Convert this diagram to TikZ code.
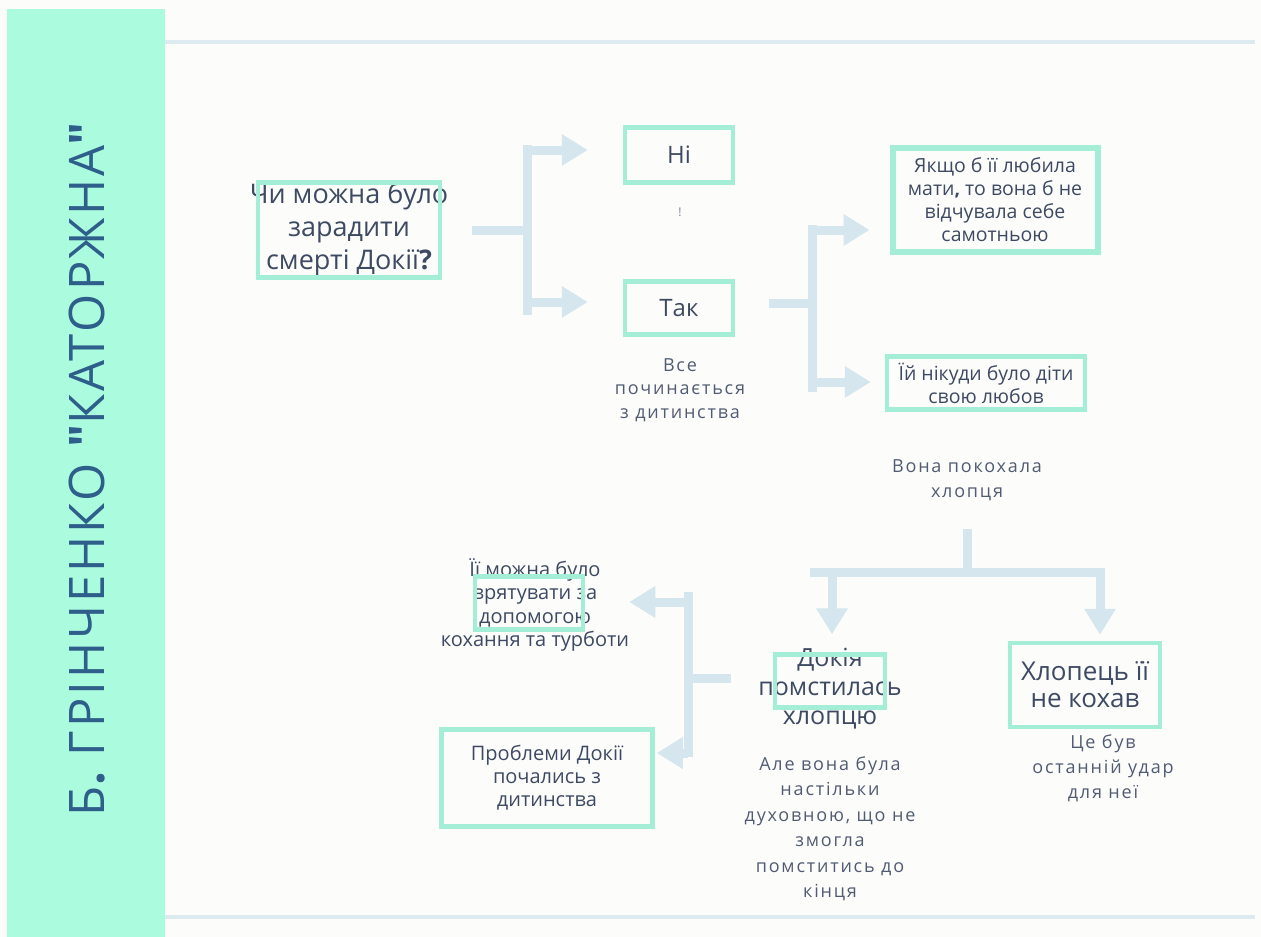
\documentclass[tikz,border=0pt]{standalone}
\usepackage{fontspec}
\setmainfont{Open Sans}
\newfontfamily\titlefont[LetterSpace=6]{Open Sans}
\usetikzlibrary{arrows.meta}
\definecolor{paper}{HTML}{FCFCFB}
\definecolor{mint}{HTML}{ABFCDF}
\definecolor{boxmint}{HTML}{A4EED7}
\definecolor{pale}{HTML}{D5E6EE}
\definecolor{rule}{HTML}{DDEBF0}
\definecolor{ink}{HTML}{3E4A62}
\definecolor{titleblue}{HTML}{2E5E8A}

\begin{document}
\begin{tikzpicture}[x=1pt,y=-1pt,
    box/.style={draw=boxmint,line width=4.5pt,inner sep=0pt},
    big/.style={text=ink,align=center,font=\fontsize{24}{29}\selectfont},
    mid/.style={text=ink,align=center,font=\fontsize{19.5}{23}\selectfont},
    note/.style={text=ink!90,align=center,font=\fontsize{18}{#1}\selectfont\addfontfeature{LetterSpace=10}},
    note/.default=25.5,
    bar/.style={draw=pale,line width=9pt},
    arr/.style={bar,-{Triangle[width=30pt,length=26pt]}}]
            \useasboundingbox (0,0) rectangle (1261,937);
            \fill[paper] (0,0) rectangle (1261,937);
            \fill[mint] (7,9) rectangle (165,937);
            \draw[rule,line width=3.5pt] (165,42) -- (1255,42);
            \draw[rule,line width=3.5pt] (165,917) -- (1255,917);
            \node[rotate=90,text=titleblue,font=\titlefont\fontsize{49}{58}\selectfont] (title) at (87,469) {Б{\bfseries .} ГРІНЧЕНКО {\bfseries "}КАТОРЖНА{\bfseries "}};

            % question and first answers
            \node[big,font=\fontsize{27}{33}\selectfont] (q) at (349,229) {Чи можна було\\зарадити\\смерті Докії{\bfseries ?}};
            \node[box,minimum width=182pt,minimum height=95pt] (qbox) at (349,230) {};
            \node[box,big,minimum width=108pt,minimum height=55pt] (no) at (679,155) {Ні};
            \node[text=ink!70,font=\fontsize{12}{14}\selectfont] (excl) at (680,212) {!};
            \node[box,big,minimum width=108pt,minimum height=53pt] (yes) at (679,308) {Так};
            \node[note=23.5] (child) at (680,390) {Все\\починається\\з дитинства};

            \coordinate (s1) at (527,230);
            \coordinate (tNo) at ([shift={(-35,-5)}]no.west);
            \coordinate (tYes) at ([shift={(-35,-6)}]yes.west);
            \draw[bar] ([shift={(30,0)}]qbox.east) -- (s1);
            \draw[bar] (s1 |- tNo) ++(0,-5) -- (s1 |- tYes) -- ++(0,13);
            \draw[arr] (s1 |- tNo) -- (tNo);
            \draw[arr] (s1 |- tYes) -- (tYes);

            % reasons
            \node[box,mid,line width=6pt,minimum width=205pt,minimum height=104pt] (love) at (995,200) {Якщо б її любила\\мати{\bfseries ,} то вона б не\\відчувала себе\\самотньою};
            \node[box,mid,minimum width=198pt,minimum height=53pt] (nowhere) at (986,383) {Їй нікуди було діти\\свою любов};
            \node[note] (fell) at (967,480) {Вона покохала\\хлопця};

            \coordinate (s2) at (812,303);
            \coordinate (tLove) at ([shift={(-20,30)}]love.west);
            \coordinate (tNowhere) at ([shift={(-14,-1)}]nowhere.west);
            \draw[bar] ([shift={(34,-5)}]yes.east) -- (s2);
            \draw[bar] (s2 |- tLove) ++(0,-5) -- (s2 |- tNowhere) -- ++(0,10);
            \draw[arr] (s2 |- tLove) -- (tLove);
            \draw[arr] (s2 |- tNowhere) -- (tNowhere);

            % consequences
            \node[big,font=\fontsize{25}{29}\selectfont] (rev) at (830,689) {Докія\\помстилась\\хлопцю};
            \node[box,minimum width=110pt,minimum height=53pt] (revBox) at (830,681) {};
            \node[note] (but) at (830,829) {Але вона була\\настільки\\духовною, що не\\змогла\\помститись до\\кінця};
            \node[box,big,font=\fontsize{26}{27}\selectfont,minimum width=150pt,minimum height=84pt] (boy) at (1085,685) {Хлопець її\\не кохав};
            \node[note=25] (last) at (1103,768) {Це був\\останній удар\\для неї};

            \coordinate (s3) at (967,572);
            \coordinate (tRev) at ([shift={(2,-18)}]revBox.north);
            \coordinate (tBoy) at ([shift={(15,-6)}]boy.north);
            \draw[bar] ([shift={(0,25)}]fell.south) -- (s3);
            \draw[bar] (s3 -| tRev) ++(-22,0) -- (s3 -| tBoy) -- ++(4.5,0);
            \draw[arr] (s3 -| tRev) -- (tRev);
            \draw[arr] (s3 -| tBoy) -- (tBoy);

            % conclusions
            \node[mid,font=\fontsize{20}{23.3}\selectfont] (save) at (535,605) {Її можна було\\врятувати за\\допомогою\\кохання та турботи};
            \node[box,minimum width=108pt,minimum height=53pt] (saveBox) at (529,603) {};
            \node[box,mid,font=\fontsize{20}{23}\selectfont,minimum width=211pt,minimum height=97pt] (prob) at (547,778) {Проблеми Докії\\почались з\\дитинства};

            \coordinate (s4) at (688,678);
            \coordinate (tSave) at ([shift={(44,-1)}]saveBox.east);
            \coordinate (tProb) at ([shift={(2,-25)}]prob.east);
            \draw[bar] ([shift={(-42,-3)}]revBox.west) -- (s4);
            \draw[bar] (s4 |- tSave) ++(0,-10) -- (s4 |- tProb) -- ++(0,4);
            \draw[arr] (s4 |- tSave) -- (tSave);
            \draw[arr] (s4 |- tProb) -- (tProb);
          \end{tikzpicture}
\end{document}
